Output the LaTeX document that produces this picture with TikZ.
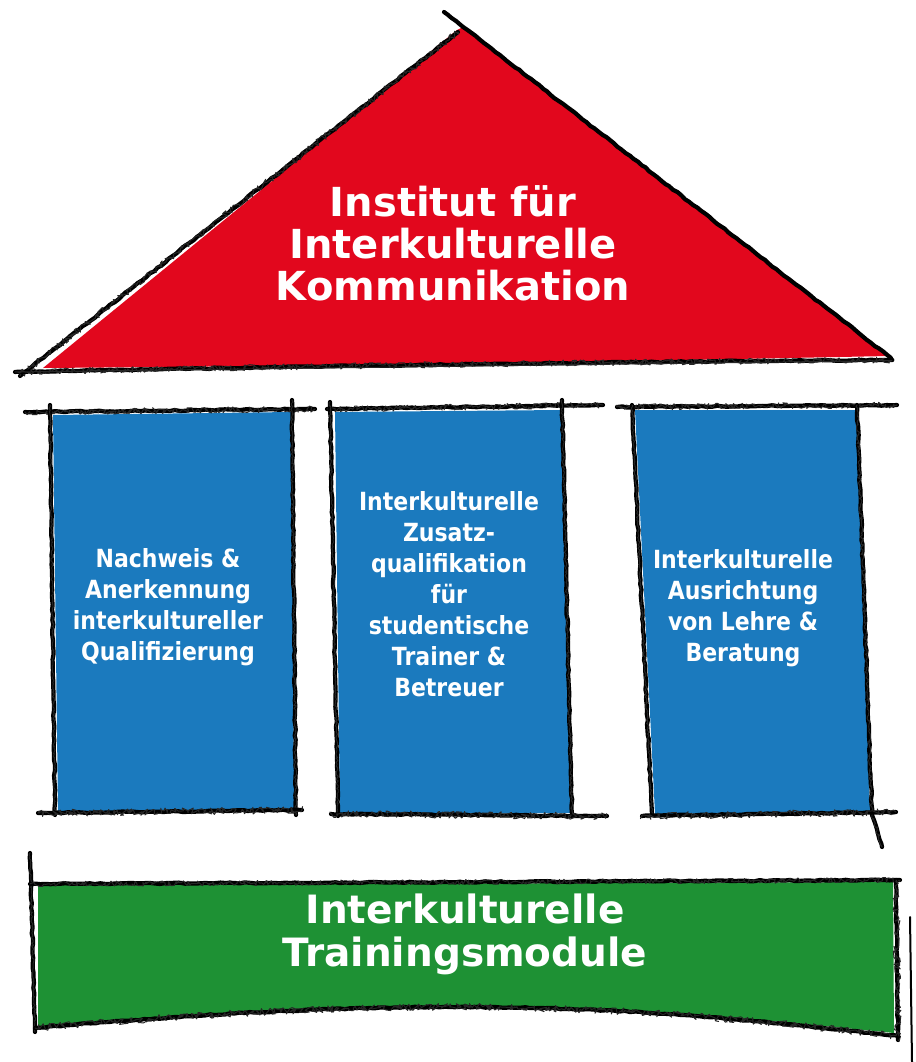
\documentclass[tikz,border=0pt]{standalone}
\usepackage{fontspec}
\setmainfont{DejaVu Sans}
\newfontfamily\headfont{DejaVu Sans}
\newfontfamily\pillarfont{DejaVu Sans}[FakeStretch=0.88]
\usetikzlibrary{decorations.pathmorphing}
\definecolor{roofred}{RGB}{226,7,29}
\definecolor{pillarblue}{RGB}{27,122,190}
\definecolor{basegreen}{RGB}{30,145,52}
\tikzset{
  sk/.style={draw=black, line width=4.2pt, line cap=round, line join=round,
    decorate, decoration={random steps, segment length=5pt, amplitude=0.6pt}},
  hairy/.style={draw=black!85, line width=1pt, line cap=round, line join=round,
    decorate, decoration={random steps, segment length=1.5pt, amplitude=#1}},
  hairy/.default=2.5pt,
  headtext/.style={text=white, align=center, font=\headfont\bfseries\fontsize{40}{42}\selectfont, inner sep=0pt},
  basetext/.style={text=white, align=center, font=\headfont\bfseries\fontsize{39}{43}\selectfont, inner sep=0pt},
  pillartext/.style={text=white, align=center, font=\pillarfont\bfseries\fontsize{25}{31}\selectfont, inner sep=0pt}
}
\newcommand\myrough[2][2.5pt]{\draw[sk] #2; \draw[hairy=#1] #2;}
\begin{document}
\begin{tikzpicture}[x=1pt,y=-1pt]
\pgfmathsetseed{7}
\useasboundingbox[fill=white] (0,0) rectangle (915,1062);

% ---------- roof ----------
\fill[roofred] (43,368) -- (457,30) -- (463,27) -- (888,356) .. controls (600,362) and (300,366) .. (43,368) -- cycle;
\myrough[3pt]{(20,376) -- (458,32)}
\draw[sk] (444,12) -- (891,358);
\myrough[3pt]{(15,372) .. controls (300,366) and (600,362) .. (891,360)}
\node[headtext] (roof) at (453,243) {Institut für\\Interkulturelle\\Kommunikation};

% ---------- left pillar ----------
\fill[pillarblue] (53,415) -- (292,412) -- (294,810) -- (58,812) -- cycle;
\myrough[3pt]{(25,412) -- (315,409)}
\myrough[1pt]{(50,405) -- (55,815)}
\myrough[1.2pt]{(292,400) -- (296,815)}
\myrough[3.5pt]{(38,813) -- (302,810)}
\node[pillartext] (p1) at (168,607) {Nachweis \&\\Anerkennung\\interkultureller\\Qualifizierung};

% ---------- middle pillar ----------
\fill[pillarblue] (335,412) -- (562,410) -- (573,813) -- (340,814) -- cycle;
\myrough[3pt]{(327,409) -- (603,405)}
\myrough[1pt]{(330,402) -- (338,816)}
\myrough[1.2pt]{(562,400) -- (572,815)}
\myrough[3.5pt]{(331,814) -- (607,816)}
\node[pillartext] (p2) at (449,594) {Interkulturelle\\Zusatz-\\qualifikation\\für\\studentische\\Trainer \&\\Betreuer};

% ---------- right pillar ----------
\fill[pillarblue] (635,410) -- (857,410) -- (870,812) -- (655,814) -- cycle;
\myrough[3pt]{(617,407) -- (897,405)}
\myrough[1pt]{(632,405) -- (652,815)}
\myrough[1.5pt]{(857,405) -- (872,815) -- (882,847)}
\myrough[3.5pt]{(642,816) -- (896,812)}
\node[pillartext] (p3) at (743,608) {Interkulturelle\\Ausrichtung\\von Lehre \&\\Beratung};

% ---------- base ----------
\fill[basegreen] (38,885) -- (893,882) -- (894,1033)
  .. controls (700,1013) and (600,1006) .. (450,1006)
  .. controls (300,1006) and (150,1017) .. (38,1027) -- cycle;
\myrough[1pt]{(30,853) -- (35,1032)}
\myrough[2.5pt]{(30,884) -- (900,880)}
\myrough[3.5pt]{(896,880) -- (898,1040)}
\myrough[3.5pt]{(35,1028) .. controls (150,1018) and (300,1007) .. (450,1007) .. controls (600,1007) and (700,1014) .. (898,1036)}
\draw[line width=2pt, line cap=round] (910,917) -- (912,1062);
\node[basetext] (base) at (465,934) {Interkulturelle\\Trainingsmodule};
\end{tikzpicture}
\end{document}
